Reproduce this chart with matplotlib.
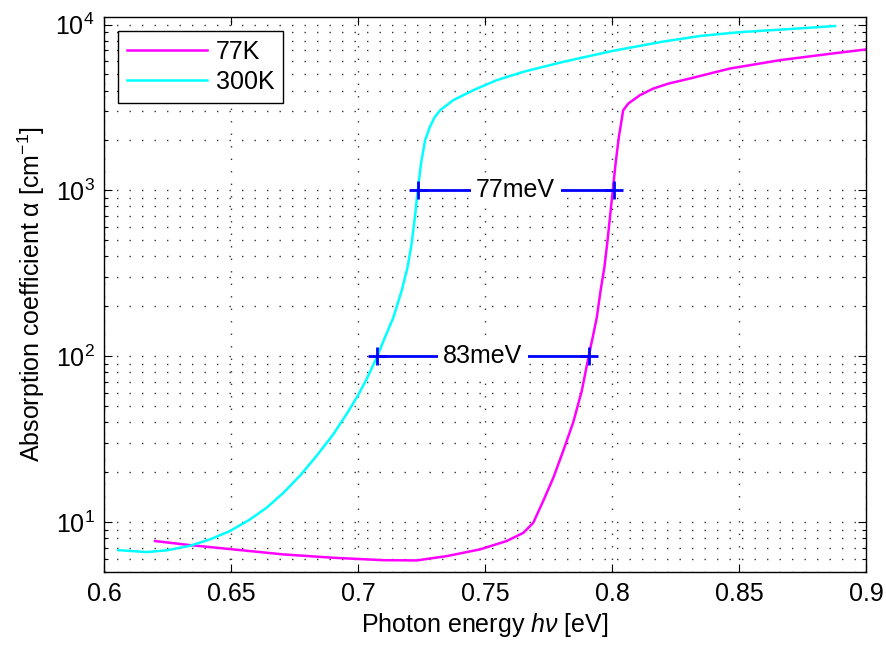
import matplotlib.pyplot as plt
from matplotlib.ticker import LogLocator, NullLocator, NullFormatter

plt.rcParams['font.family'] = ['Liberation Sans', 'DejaVu Sans']
plt.rcParams['mathtext.fontset'] = 'custom'
plt.rcParams['mathtext.rm'] = 'Liberation Sans'
plt.rcParams['mathtext.it'] = 'Liberation Sans:italic'

# 77K curve
e_77 = [0.6200, 0.6337, 0.6508, 0.6705, 0.6902, 0.7098, 0.7230, 0.7348, 0.7479,
        0.7584, 0.7650, 0.7689, 0.7728, 0.7768, 0.7807, 0.7846, 0.7880, 0.7907,
        0.7923, 0.7939, 0.7954, 0.7969, 0.7980, 0.7991, 0.8002, 0.8013, 0.8026,
        0.8043, 0.8063, 0.8109, 0.8161, 0.8220, 0.8306, 0.8463, 0.8660, 0.8870,
        0.9000]
a_77 = [7.68, 7.26, 6.84, 6.38, 6.09, 5.89, 5.87, 6.23, 6.84,
        7.68, 8.61, 9.9, 13.4, 18.5, 26.9, 39.8, 61.8, 100,
        130, 171, 249, 344, 477, 690, 1000, 1450, 2100,
        3040, 3340, 3750, 4110, 4400, 4730, 5430, 6100, 6700,
        7080]

# 300K curve
e_300 = [0.6055, 0.6167, 0.6246, 0.6337, 0.6416, 0.6495, 0.6574, 0.6639, 0.6705,
         0.6770, 0.6836, 0.6902, 0.6954, 0.6994, 0.7033, 0.7075, 0.7105, 0.7138,
         0.7171, 0.7194, 0.7210, 0.7223, 0.7234, 0.7247, 0.7263, 0.7282, 0.7300,
         0.7322, 0.7374, 0.7453, 0.7545, 0.7650, 0.7807, 0.8004, 0.8201, 0.8350,
         0.8503, 0.8700, 0.8877]
a_300 = [6.77, 6.59, 6.75, 7.19, 7.86, 8.83, 10.38, 12.2, 15.0,
         19.0, 25.1, 33.9, 44.8, 56.4, 72.8, 100, 130, 171,
         249, 344, 477, 690, 1000, 1450, 2005, 2415, 2750,
         3043, 3500, 4020, 4620, 5190, 5960, 6950, 7900, 8550,
         9000, 9400, 9800]

# band-edge shift markers
shift_levels = [1000, 100]
shift_left = [0.7234, 0.7075]
shift_right = [0.8005, 0.7907]
shift_labels = ['77meV', '83meV']

fig = plt.figure(figsize=(8.87, 6.46), dpi=100)
ax = fig.add_axes([0.1176, 0.1146, 0.859, 0.859])

ax.plot(e_77, a_77, color='#ff00ff', lw=1.8, label='77K')
ax.plot(e_300, a_300, color='#00ffff', lw=1.8, label='300K')

for lev, x1, x2, lab in zip(shift_levels, shift_left, shift_right, shift_labels):
    ax.plot([x1, x2], [lev, lev], color='#0000ff', lw=2.0, marker='+',
            markersize=13, markeredgewidth=2.0, zorder=3)
    ax.text((x1 + x2) / 2, lev, lab, ha='center', va='center', fontsize=18,
            bbox=dict(facecolor='white', edgecolor='none', pad=4), zorder=4)

ax.set_yscale('log')
ax.set_xlim(0.6, 0.9)
ax.set_ylim(5.0, 1.11e4)
ax.set_xticks([0.6, 0.65, 0.7, 0.75, 0.8, 0.85, 0.9])
ax.set_xticklabels(['0.6', '0.65', '0.7', '0.75', '0.8', '0.85', '0.9'])
ax.set_yticks([10, 100, 1000, 10000])
ax.yaxis.set_minor_locator(LogLocator(base=10, subs=range(2, 10)))
ax.yaxis.set_minor_formatter(NullFormatter())
ax.xaxis.set_minor_locator(NullLocator())

ax.tick_params(which='both', direction='in', top=True, right=True, labelsize=18)
ax.tick_params(which='major', length=6, width=0.8, pad=7)
ax.tick_params(which='minor', length=3, width=0.8)

dots = (0, (1, 8))
ax.grid(True, which='major', axis='both', color='#333333', lw=1.0, linestyle=dots)
ax.grid(True, which='minor', axis='y', color='#333333', lw=1.0, linestyle=dots)
ax.set_axisbelow(True)

for s in ax.spines.values():
    s.set_linewidth(1.0)

ax.set_xlabel('Photon energy $\\mathit{h\\nu}$ [eV]', fontsize=18, labelpad=4)
ax.set_ylabel('Absorption coefficient \u03b1 [cm$^{-1}$]', fontsize=18, labelpad=6)

leg = ax.legend(loc='upper left', fontsize=18, handlelength=3.2, handletextpad=0.35,
                labelspacing=0.25, borderpad=0.35, fancybox=False,
                edgecolor='black', framealpha=1, borderaxespad=0.55)
leg.get_frame().set_linewidth(1.0)

fig.savefig('out.png', dpi=100)
